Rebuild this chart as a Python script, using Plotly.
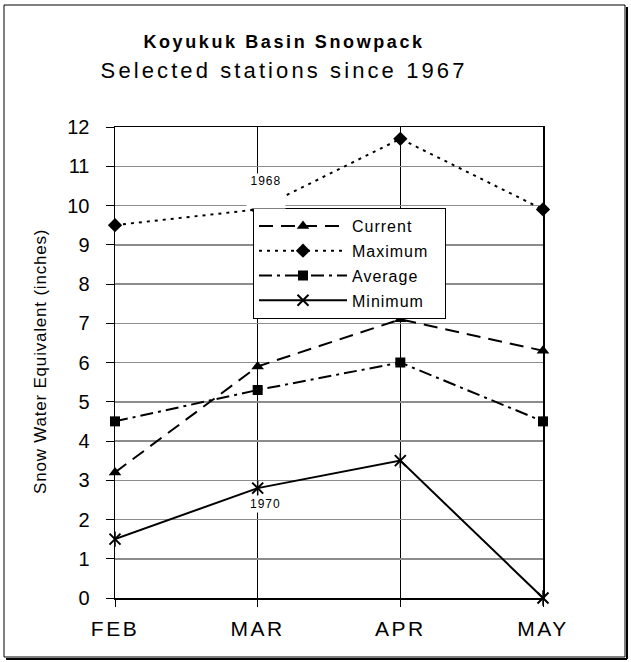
import plotly.graph_objects as go

# ---- data ----
months = ["FEB", "MAR", "APR", "MAY"]
current = [3.2, 5.9, 7.1, 6.3]
maximum = [9.5, 9.9, 11.7, 9.9]
average = [4.5, 5.3, 6.0, 4.5]
minimum = [1.5, 2.8, 3.5, 0.0]
y_ticks = list(range(0, 13))

# ---- pixel layout helpers (figure is 631 x 662) ----
W, H = 631, 662
L, R, T, B = 115, 543, 127, 598   # plot area in pixels


def px(x):
    return (x - L) / (R - L)


def py(y):
    return (B - y) / (B - T)


FONT = "Arial, Liberation Sans, sans-serif"
PAD = "\u00a0" * 4   # widens the legend box a bit

fig = go.Figure()

fig.add_trace(go.Scatter(
    x=months, y=current, name="Current" + PAD, mode="lines+markers",
    line=dict(color="black", width=2, dash="14px,8px"),
    marker=dict(symbol="triangle-up", size=11, color="black"),
    legendgroup="a", cliponaxis=False))
fig.add_trace(go.Scatter(
    x=months, y=maximum, name="Maximum" + PAD, mode="lines+markers",
    line=dict(color="black", width=2, dash="3px,5px"),
    marker=dict(symbol="diamond", size=11, color="black"),
    legendgroup="b", cliponaxis=False))
fig.add_trace(go.Scatter(
    x=months, y=average, name="Average" + PAD, mode="lines+markers",
    line=dict(color="black", width=2, dash="13px,5px,3px,5px"),
    marker=dict(symbol="square", size=10, color="black"),
    legendgroup="c", cliponaxis=False))
fig.add_trace(go.Scatter(
    x=months, y=minimum, name="Minimum" + PAD, mode="lines+markers",
    line=dict(color="black", width=2),
    marker=dict(symbol="x-thin-open", size=11, color="black",
                line=dict(color="black", width=2)),
    legendgroup="d", cliponaxis=False))
# vertical stroke of the asterisk marker
fig.add_trace(go.Scatter(
    x=months, y=minimum, mode="markers", showlegend=False,
    marker=dict(symbol="line-ns-open", size=11, color="black",
                line=dict(color="black", width=1.5)),
    cliponaxis=False, hoverinfo="skip"))

fig.update_layout(
    width=W, height=H,
    margin=dict(l=L, r=W - R, t=T, b=H - B),
    paper_bgcolor="white", plot_bgcolor="white",
    font=dict(family=FONT, color="black"),
    legend=dict(
        x=px(253), y=py(208), xanchor="left", yanchor="top",
        bgcolor="white", bordercolor="black", borderwidth=1,
        font=dict(size=16), tracegroupgap=1,
        itemwidth=88),
)

fig.update_xaxes(
    type="category", range=[0, 3],
    showline=True, linecolor="black", linewidth=1.5, mirror=True,
    showgrid=True, gridcolor="black", gridwidth=1,
    ticks="outside", ticklen=7, tickcolor="black", ticklabelstandoff=4,
    tickfont=dict(size=21), fixedrange=True)
fig.update_yaxes(
    range=[0, 12], tickvals=y_ticks,
    showline=True, linecolor="black", linewidth=1.5, mirror=True,
    showgrid=True, gridcolor="#8c8c8c", gridwidth=1.5, zeroline=False,
    ticks="outside", ticklen=8, tickcolor="black", ticklabelstandoff=12,
    tickfont=dict(size=20), fixedrange=True)

# titles (annotation index 0, 1, 2)
fig.add_annotation(text="<b>Koyukuk Basin Snowpack</b>", x=px(284), y=py(42),
                   xref="paper", yref="paper", showarrow=False,
                   xanchor="center", yanchor="middle", font=dict(size=18))
fig.add_annotation(text="Selected stations since 1967", x=px(284), y=py(70),
                   xref="paper", yref="paper", showarrow=False,
                   xanchor="center", yanchor="middle", font=dict(size=22))
fig.add_annotation(text="Snow Water Equivalent (inches)", x=px(40), y=py(362),
                   xref="paper", yref="paper", showarrow=False, textangle=-90,
                   xanchor="center", yanchor="middle", font=dict(size=17))

# record-year labels (annotation index 3, 4)
fig.add_annotation(text="1968", x=px(266), y=py(191), xref="paper", yref="paper",
                   xanchor="center", yanchor="middle",
                   width=38, height=34, valign="top", borderpad=0,
                   showarrow=False, bgcolor="white", font=dict(size=12))
fig.add_annotation(text="1970", x=px(265), y=py(504), xref="paper", yref="paper",
                   xanchor="center", yanchor="middle",
                   showarrow=False, bgcolor="white", font=dict(size=12))

# outer frame with drop shadow
fig.add_shape(type="rect", xref="paper", yref="paper",
              x0=px(4), x1=px(625), y0=py(657), y1=py(5),
              line=dict(color="black", width=1), layer="below")
fig.add_shape(type="line", xref="paper", yref="paper",
              x0=px(6), x1=px(627), y0=py(659), y1=py(659),
              line=dict(color="black", width=2))
fig.add_shape(type="line", xref="paper", yref="paper",
              x0=px(627), x1=px(627), y0=py(7), y1=py(659),
              line=dict(color="black", width=2))

# page tweaks: no body margin, and the wide letter tracking of the original
post = """
document.body.style.margin = '0';
var css = document.createElement('style');
css.textContent =
  '.annotation[data-index="0"] text {letter-spacing: 2.6px;}' +
  '.annotation[data-index="1"] text {letter-spacing: 3.1px;}' +
  '.annotation[data-index="2"] text {letter-spacing: 0.8px;}' +
  '.annotation[data-index="3"] text, .annotation[data-index="4"] text {letter-spacing: 1px;}' +
  '.xtick text {letter-spacing: 2.5px;}' +
  '.legendtext {letter-spacing: 1px;}';
document.head.appendChild(css);
"""

fig.write_html("out.html", post_script=post,
               config={"displayModeBar": False, "staticPlot": True})
